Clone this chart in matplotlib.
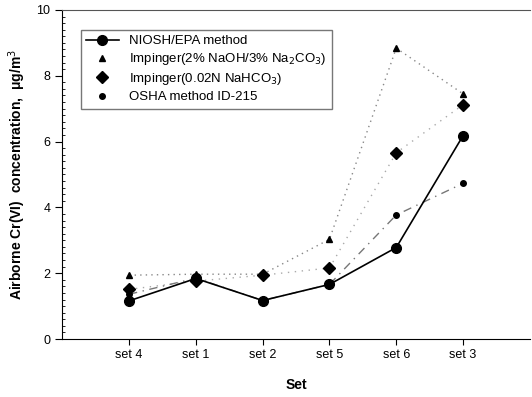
import matplotlib
matplotlib.use("Agg")
import matplotlib.pyplot as plt
from matplotlib.lines import Line2D
from matplotlib.ticker import MultipleLocator

sets = ["set 4", "set 1", "set 2", "set 5", "set 6", "set 3"]
niosh = [1.16, 1.84, 1.17, 1.66, 2.78, 6.18]
imp_naoh = [1.94, 1.97, 1.97, 3.03, 8.84, 7.45]
imp_nahco3 = [1.51, 1.76, 1.94, 2.16, 5.66, 7.12]
osha = [1.36, 1.85, 1.17, 1.66, 3.77, 4.73]

plt.rcParams["font.family"] = ["Liberation Sans", "DejaVu Sans"]

fig = plt.figure(figsize=(5.32, 3.97), dpi=100)
ax = fig.add_axes([0.117, 0.146, 0.879, 0.829])
x = list(range(len(sets)))

ax.plot(x, imp_naoh, linestyle=(0, (1, 3)), color="#888888", lw=1.0,
        marker="^", ms=5, mfc="black", mec="black")
ax.plot(x, imp_nahco3, linestyle=(0, (1, 4)), color="#aaaaaa", lw=1.0,
        marker="D", ms=6, mfc="black", mec="black")
ax.plot(x, osha, linestyle=(0, (6, 4, 1, 4)), color="#777777", lw=1.0,
        marker="o", ms=4, mfc="black", mec="black")
ax.plot(x, niosh, "-", color="black", lw=1.2, marker="o", ms=7, zorder=5)

handles = [
    Line2D([], [], color="black", lw=1.2, marker="o", ms=7),
    Line2D([], [], ls="none", marker="^", ms=4, color="black"),
    Line2D([], [], ls="none", marker="D", ms=6, color="black"),
    Line2D([], [], ls="none", marker="o", ms=4, color="black"),
]
labels = ["NIOSH/EPA method", "Impinger(2% NaOH/3% Na$_2$CO$_3$)",
          "Impinger(0.02N NaHCO$_3$)", "OSHA method ID-215"]
ax.legend(handles, labels, loc="upper left", bbox_to_anchor=(0.025, 0.96),
          fontsize=9.5, frameon=True, fancybox=False, edgecolor="#555555",
          handlelength=2.5, borderpad=0.4, labelspacing=0.3)

ax.set_xlim(-1, 6)
ax.set_ylim(0, 10)
ax.set_xticks(x)
ax.set_xticklabels(sets, fontsize=9)
ax.yaxis.set_major_locator(MultipleLocator(2))
ax.yaxis.set_minor_locator(MultipleLocator(0.2))
ax.tick_params(axis="y", which="major", direction="out", length=5, labelsize=9)
ax.tick_params(axis="y", which="minor", direction="in", length=2)
ax.tick_params(axis="x", direction="out", length=4)
ax.spines["right"].set_visible(False)
ax.spines["top"].set_color("#555555")

ax.set_xlabel("Set", fontsize=10, fontweight="bold", labelpad=12)
ax.set_ylabel("Airborne Cr(VI)  concentration,  \u03bcg/m$^3$", fontsize=10,
              fontweight="bold", labelpad=6)

fig.savefig("out.png", dpi=100)
